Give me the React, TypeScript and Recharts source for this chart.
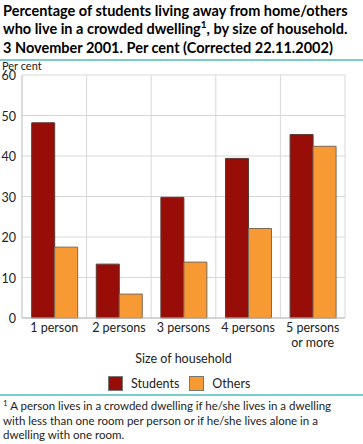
import { BarChart, Bar, XAxis, YAxis, CartesianGrid } from 'recharts';

const categories = ['1 person', '2 persons', '3 persons', '4 persons', '5 persons\nor more'];
const students = [48.2, 13.3, 29.8, 39.4, 45.3];
const others = [17.5, 5.9, 13.8, 22.1, 42.4];
const yTicks = [0, 10, 20, 30, 40, 50, 60];

const data = categories.map((name, i) => ({ name, students: students[i], others: others[i] }));

const FONT = 'Lato, sans-serif';
const RED = '#990d08';
const ORANGE = '#f79a34';

function XTick(props: any) {
  const { x, y, payload } = props;
  const lines = String(payload.value).split('\n');
  return (
    <text x={x} y={y} textAnchor="middle" fontFamily={FONT} fontSize={12.5} fill="#222">
      {lines.map((l, i) => (
        <tspan key={i} x={x} dy={i === 0 ? 12 : 15}>
          {l}
        </tspan>
      ))}
    </text>
  );
}

const supStyle: React.CSSProperties = { fontSize: 10, position: 'relative', top: -6, verticalAlign: 'baseline' };

export default function App() {
  return (
    <div style={{ position: 'absolute', left: 0, top: 0, width: 363, height: 444, background: '#fff', fontFamily: FONT }}>
      <div style={{ position: 'absolute', left: 3, top: 2, fontSize: 14.5, fontWeight: 700, lineHeight: '18px', color: '#000', whiteSpace: 'nowrap' }}>
        Percentage of students living away from home/others
        <br />
        who live in a crowded dwelling<span style={supStyle}>1</span>, by size of household.
        <br />3 November 2001. Per cent (Corrected 22.11.2002)
      </div>
      <div style={{ position: 'absolute', left: 0, top: 59, width: 363, height: 2, background: '#7ccccc' }} />
      <div style={{ position: 'absolute', left: 2, top: 60, fontSize: 11, lineHeight: '11px', color: '#222' }}>Per cent</div>
      <div style={{ position: 'absolute', left: 0, top: 0 }}>
        <BarChart
          width={363}
          height={370}
          data={data}
          margin={{ top: 75, right: 18, left: 0, bottom: 0 }}
          barCategoryGap="15%"
          barGap={0}
        >
          <CartesianGrid
            stroke="#d8d8d8"
            verticalCoordinatesGenerator={({ offset }: any) =>
              categories.map((_, i) => offset.left + ((i + 1) * offset.width) / categories.length)
            }
          />
          <XAxis
            dataKey="name"
            interval={0}
            tick={<XTick />}
            tickLine={false}
            tickSize={0}
            axisLine={{ stroke: '#bbb' }}
            height={52}
            label={{ value: 'Size of household', position: 'insideBottom', offset: 7, fontFamily: FONT, fontSize: 12.5, fill: '#222' }}
          />
          <YAxis
            domain={[0, 60]}
            ticks={yTicks}
            width={22}
            tickLine={false}
            tickSize={0}
            axisLine={{ stroke: '#bbb' }}
            tick={{ fontFamily: FONT, fontSize: 12.5, fill: '#222', dy: 1 }}
            tickMargin={6}
          />
          <Bar dataKey="students" fill={RED} stroke="#5a3a30" strokeWidth={1} isAnimationActive={false} />
          <Bar dataKey="others" fill={ORANGE} stroke="#7a6a5a" strokeWidth={1} isAnimationActive={false} />
        </BarChart>
      </div>
      <div style={{ position: 'absolute', left: 108, top: 376, display: 'flex', alignItems: 'center', fontSize: 12.5, color: '#222' }}>
        <span style={{ width: 13, height: 13, background: RED, border: '1px solid #777', marginRight: 8 }} />
        <span style={{ marginRight: 10 }}>Students</span>
        <span style={{ width: 13, height: 13, background: ORANGE, border: '1px solid #777', marginRight: 8 }} />
        <span>Others</span>
      </div>
      <div style={{ position: 'absolute', left: 0, top: 394, width: 363, height: 2, background: '#7ccccc' }} />
      <div style={{ position: 'absolute', left: 3, top: 399, fontSize: 11.5, lineHeight: '14px', color: '#222', whiteSpace: 'nowrap' }}>
        <span style={{ fontSize: 8, position: 'relative', top: -4 }}>1</span> A person lives in a crowded dwelling if he/she lives in a dwelling
        <br />
        with less than one room per person or if he/she lives alone in a
        <br />
        dwelling with one room.
      </div>
    </div>
  );
}
